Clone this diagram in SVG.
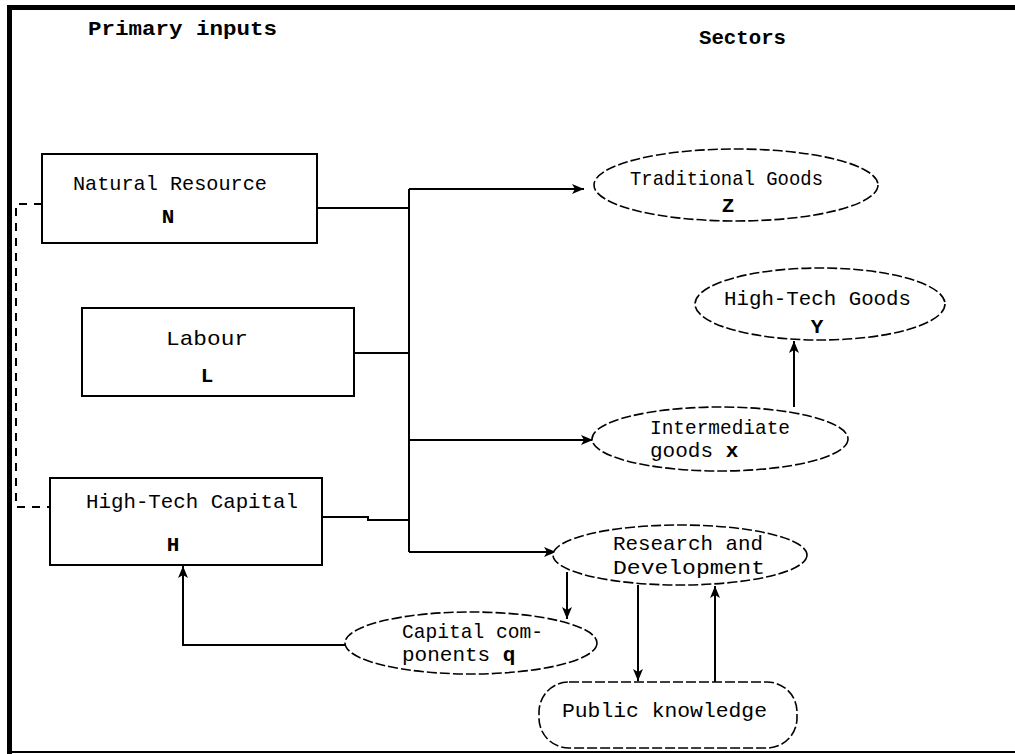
<svg xmlns="http://www.w3.org/2000/svg" width="1015" height="754" viewBox="0 0 1015 754">
<defs>
<marker id="arr" viewBox="0 0 12 10" refX="12" refY="5" markerWidth="12" markerHeight="10" markerUnits="userSpaceOnUse" orient="auto">
<path d="M0,0 L12,5 L0,10 L3,5 z" fill="#000"/>
</marker>
<style>
.t{font-family:"Liberation Mono","DejaVu Sans Mono",monospace;font-size:21px;fill:#000}
.b{font-weight:bold}
.box{fill:#fff;stroke:#000;stroke-width:2}
.ell{fill:#fff;stroke:#000;stroke-width:1.6;stroke-dasharray:10,3}
.ln{fill:none;stroke:#000;stroke-width:2}
.dash{fill:none;stroke:#000;stroke-width:2;stroke-dasharray:8,7}
</style>
</defs>
<rect width="1015" height="754" fill="#fff"/>
<g id="frame">
<rect x="7" y="5" width="1008" height="5" fill="#000"/>
<rect x="7" y="5" width="5" height="749" fill="#000"/>
<line x1="7" y1="752" x2="1015" y2="752" stroke="#000" stroke-width="2"/>
</g>
<g id="headers">
<text class="t b" x="88" y="35" textLength="189" lengthAdjust="spacingAndGlyphs">Primary inputs</text>
<text class="t b" x="699" y="44" textLength="87" lengthAdjust="spacingAndGlyphs">Sectors</text>
</g>
<g id="connectors">
<path class="dash" d="M42,204 H16 V507 H50"/>
<path class="ln" d="M409,189 V552"/>
<path class="ln" d="M317,208 H409"/>
<path class="ln" d="M354,353 H409"/>
<path class="ln" d="M322,517 H368 V520 H409"/>
<path class="ln" d="M409,189 H584" marker-end="url(#arr)"/>
<path class="ln" d="M409,440 H593" marker-end="url(#arr)"/>
<path class="ln" d="M409,552 H556" marker-end="url(#arr)"/>
<path class="ln" d="M794,407 V341" marker-end="url(#arr)"/>
<path class="ln" d="M567,572 V619" marker-end="url(#arr)"/>
<path class="ln" d="M638,585 V681" marker-end="url(#arr)"/>
<path class="ln" d="M715,682 V586" marker-end="url(#arr)"/>
<path class="ln" d="M345,645 H183 V566" marker-end="url(#arr)"/>
</g>
<g id="natural-resource">
<rect class="box" x="42" y="154" width="275" height="89"/>
<text class="t" x="73" y="190" textLength="194" lengthAdjust="spacingAndGlyphs">Natural Resource</text>
<text class="t b" x="168" y="223" text-anchor="middle">N</text>
</g>
<g id="labour">
<rect class="box" x="82" y="308" width="272" height="88"/>
<text class="t" x="166" y="345" textLength="82" lengthAdjust="spacingAndGlyphs">Labour</text>
<text class="t b" x="207" y="382" text-anchor="middle">L</text>
</g>
<g id="high-tech-capital">
<rect class="box" x="50" y="478" width="272" height="87"/>
<text class="t" x="86" y="508" textLength="212" lengthAdjust="spacingAndGlyphs">High-Tech Capital</text>
<text class="t b" x="173" y="551" text-anchor="middle">H</text>
</g>
<g id="traditional-goods">
<ellipse class="ell" cx="736" cy="185" rx="142" ry="36"/>
<text class="t" x="630" y="185" textLength="193" lengthAdjust="spacingAndGlyphs">Traditional Goods</text>
<text class="t b" x="728" y="212" text-anchor="middle">Z</text>
</g>
<g id="high-tech-goods">
<ellipse class="ell" cx="820" cy="304" rx="125" ry="36"/>
<text class="t" x="724" y="305" textLength="187" lengthAdjust="spacingAndGlyphs">High-Tech Goods</text>
<text class="t b" x="817" y="333" text-anchor="middle">Y</text>
</g>
<g id="intermediate-goods">
<ellipse class="ell" cx="720" cy="439" rx="128" ry="32"/>
<text class="t" x="650" y="434" textLength="140" lengthAdjust="spacingAndGlyphs">Intermediate</text>
<text class="t" x="650" y="457">goods <tspan class="b">x</tspan></text>
</g>
<g id="research-development">
<ellipse class="ell" cx="680" cy="555" rx="127" ry="30"/>
<text class="t" x="613" y="550" textLength="150" lengthAdjust="spacingAndGlyphs">Research and</text>
<text class="t" x="613" y="574" textLength="152" lengthAdjust="spacingAndGlyphs">Development</text>
</g>
<g id="capital-components">
<ellipse class="ell" cx="471" cy="643" rx="126" ry="31"/>
<text class="t" x="402" y="638" textLength="141" lengthAdjust="spacingAndGlyphs">Capital com-</text>
<text class="t" x="402" y="661">ponents <tspan class="b">q</tspan></text>
</g>
<g id="public-knowledge">
<rect class="ell" x="539" y="682" width="258" height="66" rx="30" ry="30"/>
<text class="t" x="562" y="717" textLength="205" lengthAdjust="spacingAndGlyphs">Public knowledge</text>
</g>
</svg>
